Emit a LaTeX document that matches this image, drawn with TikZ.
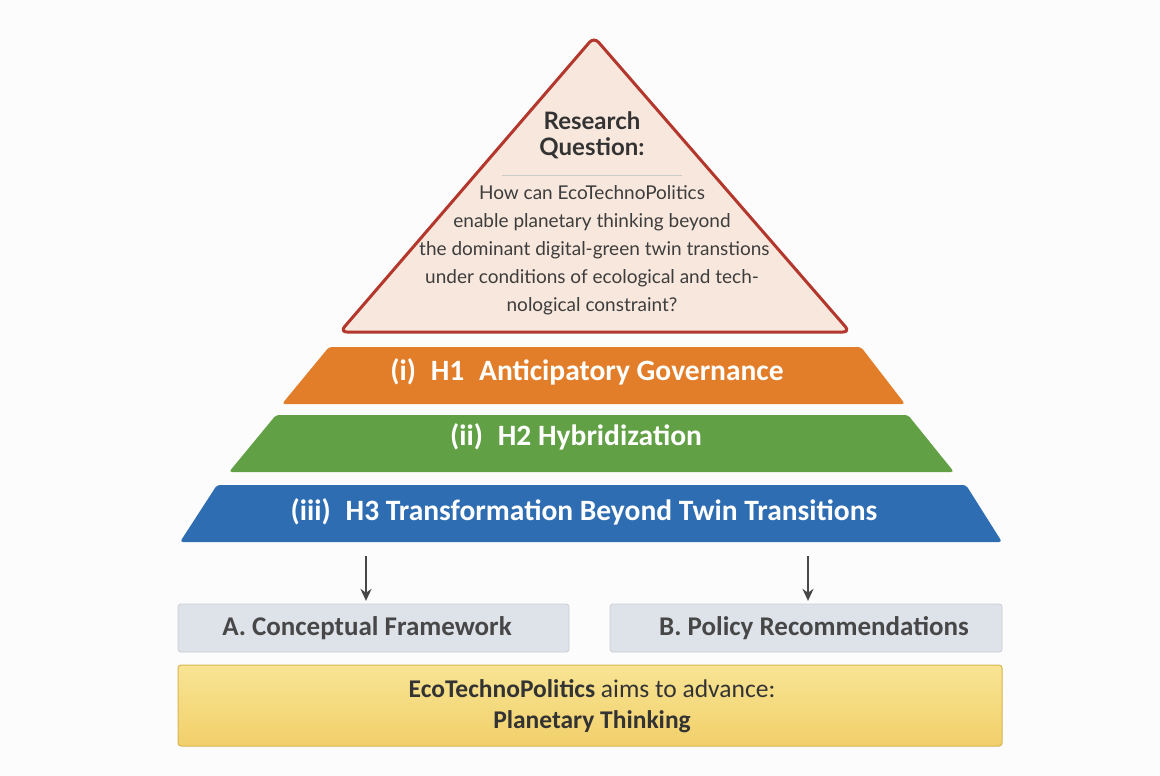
\documentclass[tikz,border=0pt]{standalone}
\usepackage{fontspec}
\setmainfont{Lato}
\newfontfamily\labelfont{Carlito}
\usepackage{tikz}
\usetikzlibrary{arrows.meta}

\definecolor{rqred}{HTML}{B3372C}
\definecolor{rqfill}{HTML}{F8E7DC}
\definecolor{layorange}{HTML}{E27D2A}
\definecolor{laygreen}{HTML}{62A045}
\definecolor{layblue}{HTML}{2F6DB2}
\definecolor{boxgrey}{HTML}{DEE2E9}
\definecolor{boxline}{HTML}{C8CDD5}
\definecolor{goaltop}{HTML}{F8E494}
\definecolor{goalbot}{HTML}{F1D06A}
\definecolor{goalline}{HTML}{D8B452}
\definecolor{inkgrey}{HTML}{333333}

\tikzset{
  layer/.style={rounded corners=3pt},
  laytext/.style={text=white, font=\labelfont\bfseries\fontsize{29.5}{32}\selectfont},
  outbox/.style={draw=boxline, fill=boxgrey, rounded corners=3pt, line width=0.8pt},
  outtext/.style={text=inkgrey!90, font=\labelfont\bfseries\fontsize{27}{30}\selectfont},
  flow/.style={-{Stealth[length=12pt,width=11pt]}, line width=2.2pt, draw=inkgrey!90}
}

\begin{document}
\begin{tikzpicture}[x=1pt, y=-1pt]
\fill[white!97!black!40] (0,0) rectangle (1160,776);
\useasboundingbox (0,0) rectangle (1160,776);

% research question triangle
\draw[rqred, fill=rqfill, line width=3pt, rounded corners=7pt, line join=round]
  (594,37) -- (850,332) -- (340,332) -- cycle;
\node[text=inkgrey, font=\bfseries\fontsize{24}{26}\selectfont, align=center] (rq) at (592,135) {Research\\Question:};
\draw[black!20, line width=0.6pt] (502,175) -- (682,175);
\node[text=inkgrey!95, font=\fontsize{19}{28}\selectfont, align=center] (rqtext) at (592,250)
  {How can EcoTechnoPolitics\\
   enable planetary thinking beyond\\
   \ the dominant digital-green twin transtions\\
   under conditions of ecological and tech-\\
   nological constraint?};

% hypothesis layers
\fill[layer, layorange] (329,347) -- (861,347) -- (905,404) -- (282,404) -- cycle;
\node[laytext] (h1) at (587,372) {(i)\enspace H1\enspace Anticipatory Governance};
\fill[layer, laygreen] (276,415) -- (908,415) -- (954,472) -- (229,472) -- cycle;
\node[laytext] (h2) at (576,437) {(ii)\enspace H2 Hybridization};
\fill[layer, layblue] (217,485) -- (966,485) -- (1002,542) -- (180,542) -- cycle;
\node[laytext] (h3) at (584,512) {(iii)\enspace H3 Transformation Beyond Twin Transitions};

% outcomes
\draw[outbox] (178,604) rectangle (569,652);
\node[outtext] (outA) at (367,628) {A. Conceptual Framework};
\draw[outbox] (610,604) rectangle (1002,652);
\node[outtext] (outB) at (814,628) {B. Policy Recommendations};

\coordinate (arrA) at (366,556);
\coordinate (arrB) at (808,556);
\draw[flow, shorten >=12pt] (arrA) -- (arrA |- outA.north);
\draw[flow, shorten >=12pt] (arrB) -- (arrB |- outB.north);

% overall aim
\shade[top color=goaltop, bottom color=goalbot, rounded corners=3pt] (178,665) rectangle (1002,746);
\draw[goalline, line width=1pt, rounded corners=3pt] (178,665) rectangle (1002,746);
\node[text=inkgrey, font=\labelfont\fontsize{25.5}{31}\selectfont, align=center] (aim) at (592,706)
  {\textbf{EcoTechnoPolitics} aims to advance:\\ \textbf{Planetary Thinking}};
\end{tikzpicture}
\end{document}
